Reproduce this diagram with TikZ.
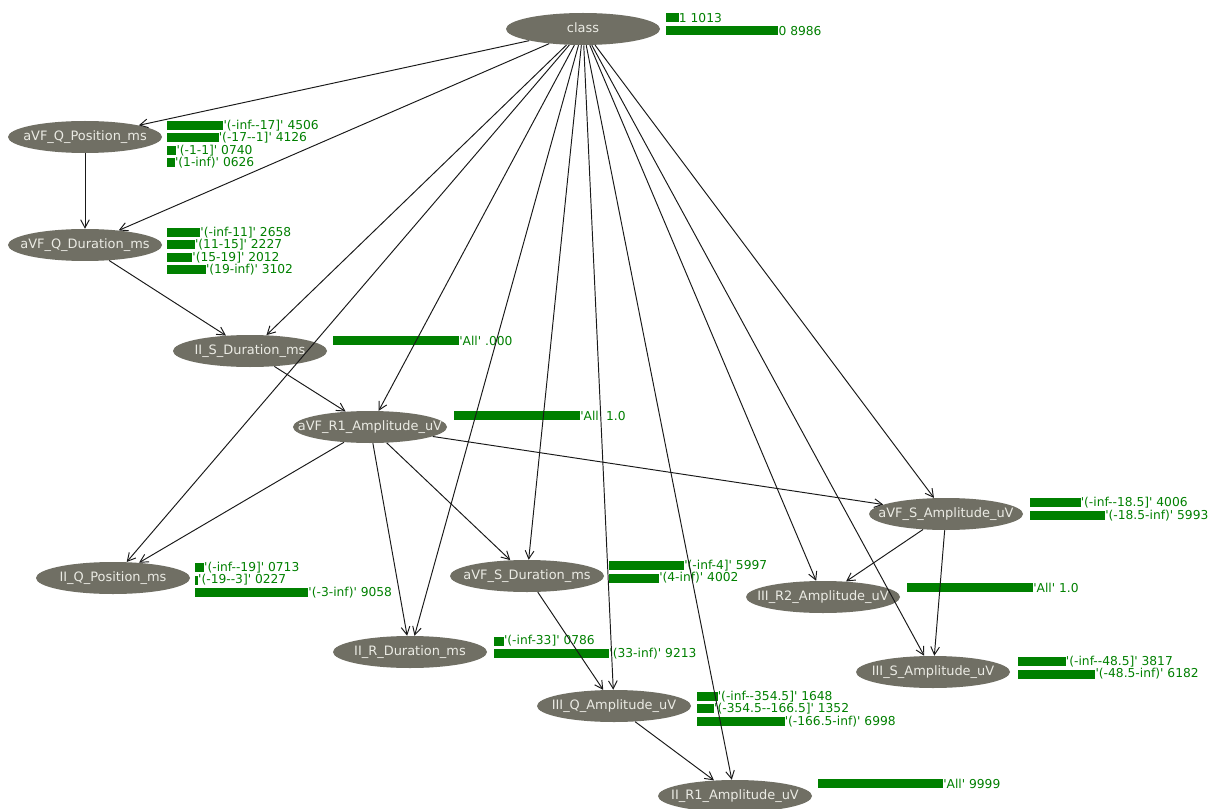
\documentclass[tikz,border=0pt]{standalone}
\usepackage{fontspec}
\setmainfont{DejaVu Sans}[Ligatures=TeXOff]
\usetikzlibrary{shapes.geometric,arrows.meta}
\definecolor{nodegray}{RGB}{112,111,100}
\definecolor{nodetext}{RGB}{235,235,228}
\definecolor{bargreen}{RGB}{0,128,0}
\definecolor{edgecol}{RGB}{25,25,25}
\tikzset{
 var/.style={ellipse, fill=nodegray, text=nodetext, minimum width=115.5pt, minimum height=24pt, inner sep=0pt, font=\fontsize{9.7}{10}\selectfont},
 barlabel/.style={anchor=west, inner sep=0pt, text=bargreen, font=\fontsize{9.2}{10}\selectfont},
 barfill/.style={fill=bargreen},
 conn/.style={draw=edgecol, line width=0.72pt, -{Straight Barb[length=6pt,width=6.5pt]}},
}
\newcommand\pbar[5]{\fill[barfill] (#2,#3-4.5) rectangle (#2+#4,#3+4.5); \node[barlabel] (#1) at (#2+#4,#3) {#5};}
\newcommand\vtext[1]{\makebox[0pt]{\vphantom{Ag}#1}}
\begin{document}
\begin{tikzpicture}[x=0.75pt,y=-0.75pt]
\fill[white] (0,0) rectangle (1220,809);
\useasboundingbox (0,0) rectangle (1220,809);
% probability bars
\pbar{c1}{666}{18}{12.7}{1 1013}
\pbar{c2}{666}{31}{112.3}{0 8986}
\pbar{qp1}{167}{125.5}{56.3}{'(-inf--17]' 4506}
\pbar{qp2}{167}{138}{51.6}{'(-17--1]' 4126}
\pbar{qp3}{167}{150.5}{9.3}{'(-1-1]' 0740}
\pbar{qp4}{167}{163}{7.8}{'(1-inf)' 0626}
\pbar{qd1}{167}{232.5}{33.2}{'(-inf-11]' 2658}
\pbar{qd2}{167}{245}{27.8}{'(11-15]' 2227}
\pbar{qd3}{167}{257.5}{25.2}{'(15-19]' 2012}
\pbar{qd4}{167}{270}{38.8}{'(19-inf)' 3102}
\pbar{sd1}{333}{340.5}{126}{'All' .000}
\pbar{r11}{454}{415.5}{126}{'All' 1.0}
\pbar{sa1}{1030}{502.5}{50.5}{'(-inf--18.5]' 4006}
\pbar{sa2}{1030}{515.5}{75}{'(-18.5-inf)' 5993}
\pbar{iq1}{195}{567.5}{8.9}{'(-inf--19]' 0713}
\pbar{iq2}{195}{580}{2.9}{'(-19--3]' 0227}
\pbar{iq3}{195}{592.5}{113.2}{'(-3-inf)' 9058}
\pbar{ss1}{609}{565.5}{75}{'(-inf-4]' 5997}
\pbar{ss2}{609}{578}{50}{'(4-inf)' 4002}
\pbar{r21}{907}{587.5}{126}{'All' 1.0}
\pbar{rd1}{494}{641}{9.8}{'(-inf-33]' 0786}
\pbar{rd2}{494}{653.5}{115.2}{'(33-inf)' 9213}
\pbar{s31}{1018}{661.5}{47.7}{'(-inf--48.5]' 3817}
\pbar{s32}{1018}{674}{77.3}{'(-48.5-inf)' 6182}
\pbar{qa1}{697}{696.5}{20.6}{'(-inf--354.5]' 1648}
\pbar{qa2}{697}{708.5}{16.9}{'(-354.5--166.5]' 1352}
\pbar{qa3}{697}{721.5}{87.5}{'(-166.5-inf)' 6998}
\pbar{ra1}{818}{783.5}{125}{'All' 9999}
% variables
\node[var] (class) at (583,29) {\vtext{class}};
\node[var] (qpos) at (85,137) {\vtext{aVF\_Q\_Position\_ms}};
\node[var] (qdur) at (85,245) {\vtext{aVF\_Q\_Duration\_ms}};
\node[var] (sdur) at (250,351) {\vtext{II\_S\_Duration\_ms}};
\node[var] (r1) at (370,427) {\vtext{aVF\_R1\_Amplitude\_uV}};
\node[var] (samp) at (946,514) {\vtext{aVF\_S\_Amplitude\_uV}};
\node[var] (iiqpos) at (113,578) {\vtext{II\_Q\_Position\_ms}};
\node[var] (sdurs) at (527,576) {\vtext{aVF\_S\_Duration\_ms}};
\node[var] (r2) at (823,597) {\vtext{III\_R2\_Amplitude\_uV}};
\node[var] (rdur) at (410,652) {\vtext{II\_R\_Duration\_ms}};
\node[var] (s3) at (933,672) {\vtext{III\_S\_Amplitude\_uV}};
\node[var] (qamp) at (614,706) {\vtext{III\_Q\_Amplitude\_uV}};
\node[var] (r1amp) at (735,796) {\vtext{II\_R1\_Amplitude\_uV}};
% connectors
\foreach \t in {qpos,qdur,sdur,r1,iiqpos,rdur,sdurs,qamp,r1amp,r2,s3,samp}
  \draw[conn] (class) -- (\t);
\draw[conn] (qpos) -- (qdur);
\draw[conn] (qdur) -- (sdur);
\draw[conn] (sdur) -- (r1);
\draw[conn] (r1) -- (iiqpos);
\draw[conn] (r1) -- (rdur);
\draw[conn] (r1) -- (sdurs);
\draw[conn] (r1) -- (samp);
\draw[conn] (samp) -- (r2);
\draw[conn] (samp) -- (s3);
\draw[conn] (sdurs) -- (qamp);
\draw[conn] (qamp) -- (r1amp);
\end{tikzpicture}
\end{document}
